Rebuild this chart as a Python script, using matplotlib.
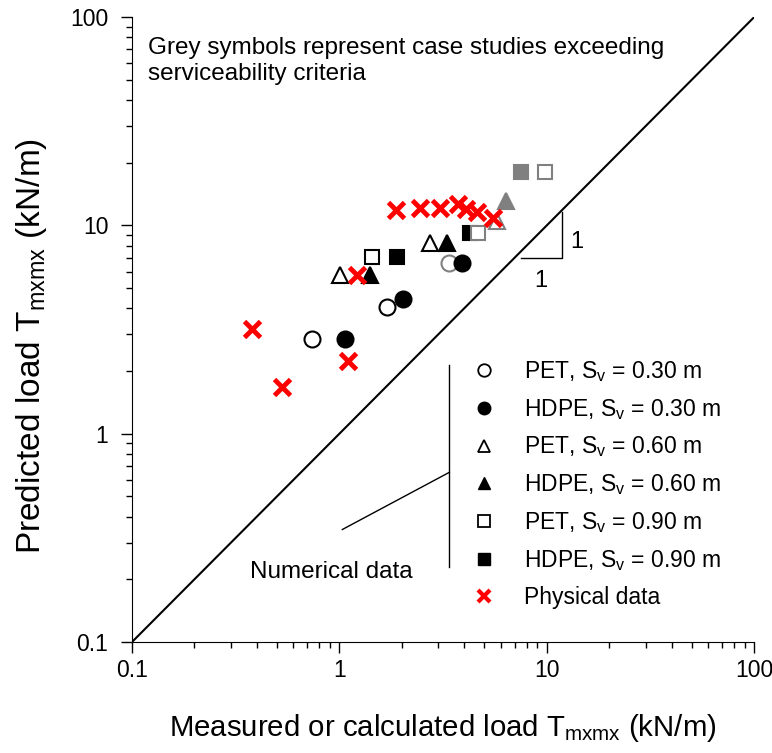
import numpy as np
import matplotlib
matplotlib.use("Agg")
import matplotlib.pyplot as plt
from matplotlib.lines import Line2D

plt.rcParams['font.family'] = ['Liberation Sans', 'DejaVu Sans']
plt.rcParams['mathtext.fontset'] = 'custom'
plt.rcParams['mathtext.rm'] = 'Liberation Sans'

GREY = '#808080'

# numerical data: (measured, predicted)
pet30_x = [0.74, 1.69]
pet30_y = [2.84, 4.06]
pet30_grey_x = [3.38]
pet30_grey_y = [6.61]
hdpe30_x = [1.06, 2.02, 3.92]
hdpe30_y = [2.84, 4.41, 6.61]

pet60_x = [1.01, 2.72]
pet60_y = [5.77, 8.2]
pet60_grey_x = [5.74]
pet60_grey_y = [10.5]
hdpe60_x = [1.41, 3.30]
hdpe60_y = [5.77, 8.2]
hdpe60_grey_x = [6.37]
hdpe60_grey_y = [13.1]

pet90_x = [1.44]
pet90_y = [7.02]
pet90_grey_x = [4.68, 9.75]
pet90_grey_y = [9.22, 18.1]
hdpe90_x = [1.89, 4.27]
hdpe90_y = [7.02, 9.22]
hdpe90_grey_x = [7.5]
hdpe90_grey_y = [18.1]

# physical data
phys_x = [0.378, 0.527, 1.105, 1.213, 1.88, 2.45, 3.06, 3.73, 4.08, 4.6, 5.5]
phys_y = [3.18, 1.68, 2.24, 5.77, 11.84, 12.07, 12.07, 12.66, 11.93, 11.6, 10.8]

labels = ['PET, S$_\\mathregular{v}$ = 0.30 m', 'HDPE, S$_\\mathregular{v}$ = 0.30 m',
          'PET, S$_\\mathregular{v}$ = 0.60 m', 'HDPE, S$_\\mathregular{v}$ = 0.60 m',
          'PET, S$_\\mathregular{v}$ = 0.90 m', 'HDPE, S$_\\mathregular{v}$ = 0.90 m',
          'Physical data']

fig = plt.figure(figsize=(7.72, 7.53), dpi=100)
ax = fig.add_axes([0.171, 0.1474, 0.806, 0.83])

ax.plot([0.1, 100], [0.1, 100], color='black', lw=1.5, zorder=1)

ms = 11.5
def pts(x, y, m, fc, ec, z=3, size=ms):
    ax.plot(x, y, ls='none', marker=m, ms=size, mfc=fc, mec=ec, mew=1.5, zorder=z)

pts(pet30_x, pet30_y, 'o', 'white', 'black')
pts(pet30_grey_x, pet30_grey_y, 'o', 'white', GREY)
pts(hdpe30_x, hdpe30_y, 'o', 'black', 'black', 4)
pts(pet60_x, pet60_y, '^', 'white', 'black')
pts(pet60_grey_x, pet60_grey_y, '^', 'white', GREY)
pts(hdpe60_x, hdpe60_y, '^', 'black', 'black', 4)
pts(hdpe60_grey_x, hdpe60_grey_y, '^', GREY, GREY, 4)
pts(hdpe90_x, hdpe90_y, 's', 'black', 'black', 3, 10)
pts(hdpe90_grey_x, hdpe90_grey_y, 's', GREY, GREY, 3, 10)
pts(pet90_x, pet90_y, 's', 'white', 'black', 4, 10)
pts(pet90_grey_x, pet90_grey_y, 's', 'white', GREY, 4, 10)
ax.plot(phys_x, phys_y, ls='none', marker='x', ms=11, mec='red', mew=3.5, zorder=5)

ax.set_xscale('log')
ax.set_yscale('log')
ax.set_xlim(0.1, 100)
ax.set_ylim(0.1, 100)
ax.set_xticks([0.1, 1, 10, 100], ['0.1', '1', '10', '100'])
ax.set_yticks([0.1, 1, 10, 100], ['0.1', '1', '10', '100'])
ax.spines['top'].set_visible(False)
ax.spines['right'].set_visible(False)
ax.tick_params(which='major', direction='out', length=8, width=1, labelsize=16.5, pad=9)
ax.tick_params(which='minor', direction='out', length=4.5, width=1)
ax.tick_params(axis='x', pad=4)

ax.set_xlabel('Measured or calculated load T$_\\mathregular{mxmx}$ (kN/m)', fontsize=21.2, labelpad=22)
ax.set_ylabel('Predicted load T$_\\mathregular{mxmx}$ (kN/m)', fontsize=24)
ax.yaxis.set_label_coords(-0.133, 0.474)

ax.text(0.026, 0.968, 'Grey symbols represent case studies exceeding\nserviceability criteria',
        transform=ax.transAxes, fontsize=17.5, va='top', ha='left', linespacing=1.25)

# 1:1 slope triangle
ax.plot([7.5, 11.8, 11.8], [6.95, 6.95, 11.6], color='black', lw=1)
ax.text(13.0, 8.3, '1', fontsize=17, va='center', ha='left')
ax.text(9.4, 5.4, '1', fontsize=17, va='center', ha='center')

# legend
handles = [
    Line2D([], [], ls='none', marker='o', ms=9, mfc='white', mec='black', mew=1.3),
    Line2D([], [], ls='none', marker='o', ms=9, mfc='black', mec='black'),
    Line2D([], [], ls='none', marker='^', ms=9, mfc='white', mec='black', mew=1.3),
    Line2D([], [], ls='none', marker='^', ms=9, mfc='black', mec='black'),
    Line2D([], [], ls='none', marker='s', ms=8, mfc='white', mec='black', mew=1.3),
    Line2D([], [], ls='none', marker='s', ms=8, mfc='black', mec='black'),
    Line2D([], [], ls='none', marker='x', ms=9, mec='red', mew=3),
]
ax.legend(handles, labels, loc='upper left', bbox_to_anchor=(0.547, 0.453), frameon=False,
          fontsize=16.5, handlelength=1.0, handletextpad=1.25, labelspacing=0.565,
          borderaxespad=0, borderpad=0)

ax.plot([0.510, 0.510], [0.1205, 0.443], color='black', lw=1, transform=ax.transAxes)
ax.plot([0.510, 0.338], [0.2715, 0.180], color='black', lw=1, transform=ax.transAxes)
ax.text(0.189, 0.1115, 'Numerical data', transform=ax.transAxes, fontsize=17.5,
        va='center', ha='left')

fig.savefig('out.png', dpi=100)
